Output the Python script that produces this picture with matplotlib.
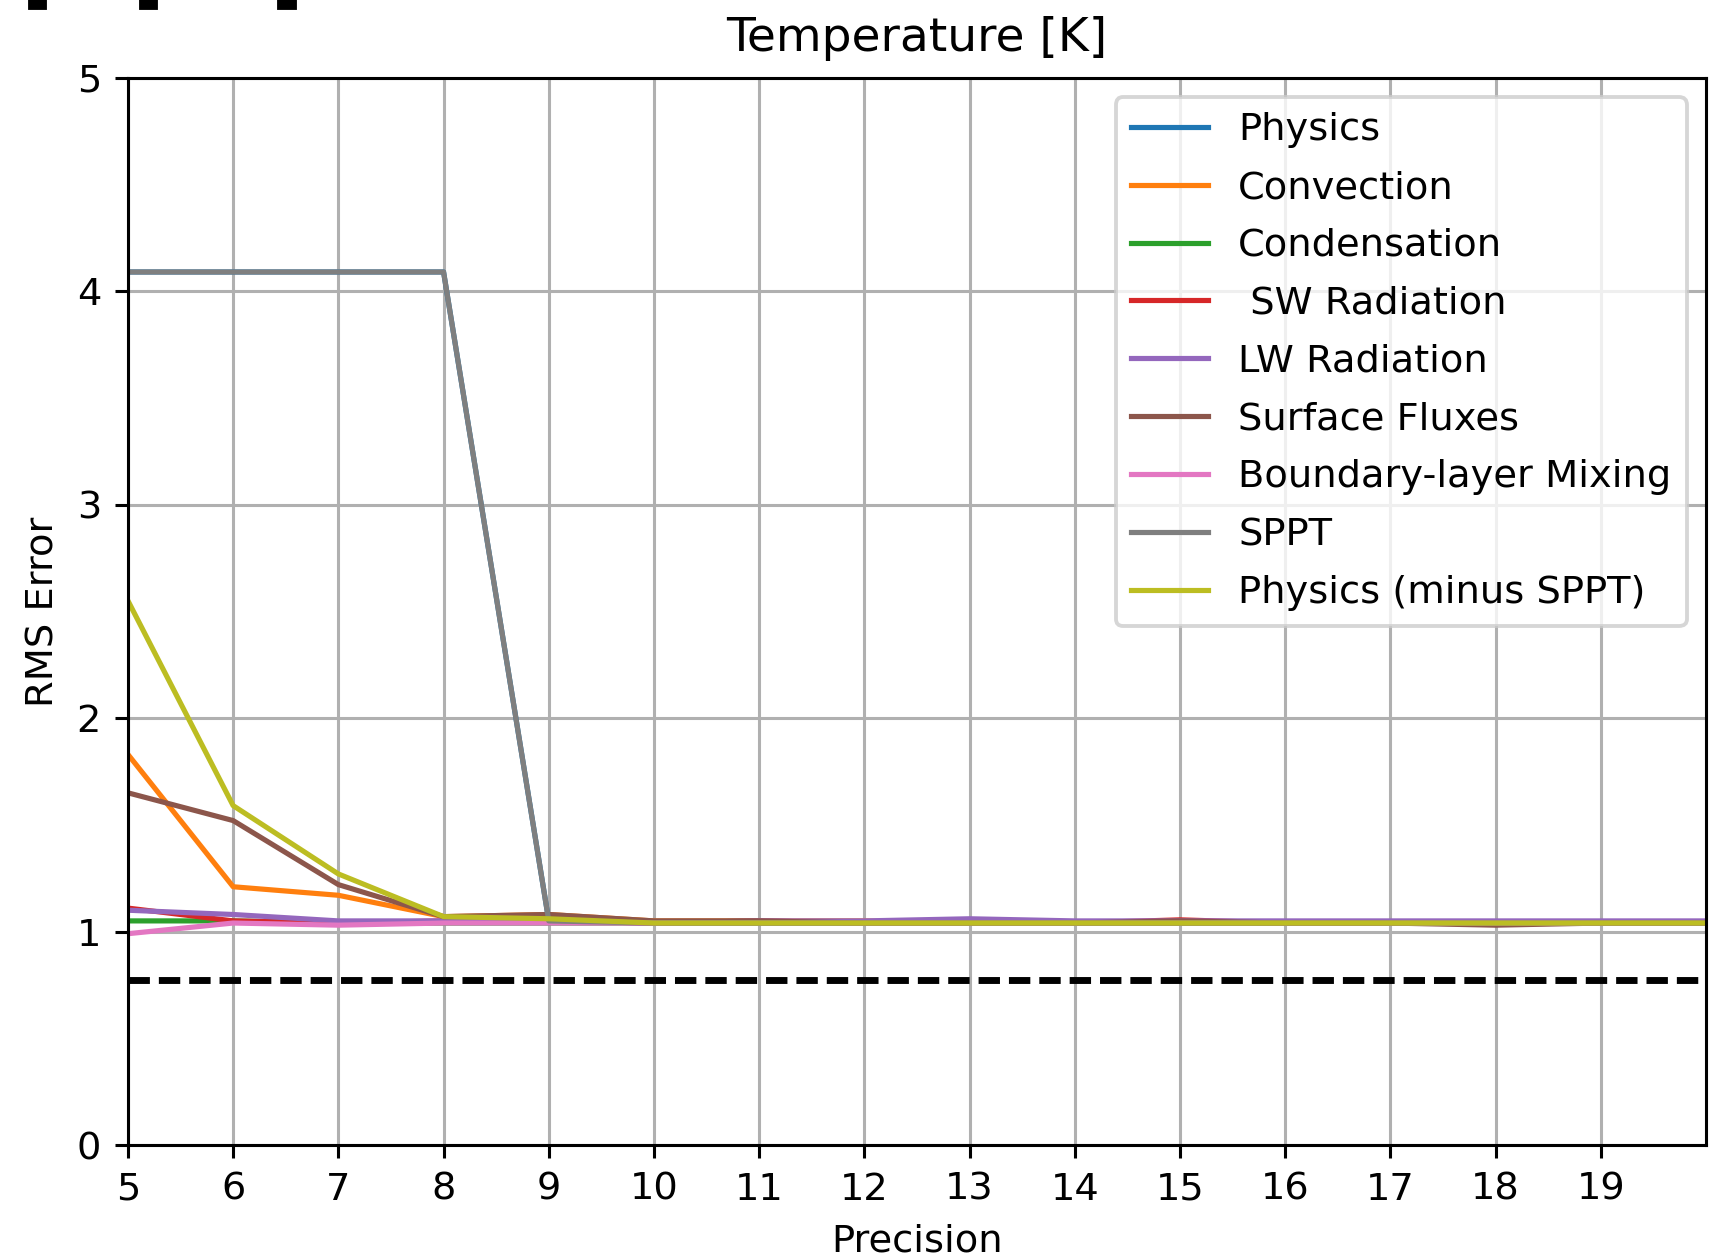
import numpy as np
import matplotlib
matplotlib.use("Agg")
import matplotlib.pyplot as plt
from matplotlib.patches import Rectangle

# Bits of precision used in the reduced-precision runs
precision = [5, 6, 7, 8, 9, 10, 11, 12, 13, 14, 15, 16, 17, 18, 19, 20]

series_labels = ["Physics", "Convection", "Condensation", " SW Radiation",
                 "LW Radiation", "Surface Fluxes", "Boundary-layer Mixing",
                 "SPPT", "Physics (minus SPPT)"]

# RMS temperature error [K] for each reduced-precision parametrisation
physics      = [4.09, 4.09, 4.09, 4.09, 1.05, 1.04, 1.04, 1.04, 1.04, 1.04, 1.04, 1.04, 1.04, 1.04, 1.04, 1.04]
convection   = [1.83, 1.21, 1.17, 1.07, 1.08, 1.05, 1.05, 1.05, 1.04, 1.04, 1.04, 1.04, 1.04, 1.04, 1.04, 1.04]
condensation = [1.05, 1.05, 1.04, 1.04, 1.04, 1.04, 1.04, 1.04, 1.04, 1.04, 1.04, 1.04, 1.04, 1.04, 1.04, 1.04]
sw_radiation = [1.11, 1.05, 1.04, 1.05, 1.05, 1.04, 1.05, 1.04, 1.04, 1.04, 1.055, 1.04, 1.04, 1.04, 1.04, 1.04]
lw_radiation = [1.10, 1.08, 1.05, 1.05, 1.05, 1.04, 1.05, 1.05, 1.06, 1.05, 1.05, 1.05, 1.05, 1.05, 1.05, 1.05]
surface      = [1.65, 1.52, 1.22, 1.07, 1.08, 1.05, 1.05, 1.04, 1.04, 1.04, 1.05, 1.04, 1.04, 1.03, 1.04, 1.04]
boundary     = [0.99, 1.04, 1.03, 1.04, 1.04, 1.04, 1.04, 1.04, 1.04, 1.04, 1.04, 1.04, 1.04, 1.04, 1.04, 1.04]
sppt         = [4.09, 4.09, 4.09, 4.09, 1.05, 1.04, 1.04, 1.04, 1.04, 1.04, 1.04, 1.04, 1.04, 1.04, 1.04, 1.04]
minus_sppt   = [2.55, 1.59, 1.27, 1.07, 1.06, 1.04, 1.04, 1.04, 1.04, 1.04, 1.04, 1.04, 1.04, 1.04, 1.04, 1.04]

# Error of the double-precision ensemble spread (reference level)
reference_error = 0.775

x_ticks = list(range(5, 20))
y_ticks = [0, 1, 2, 3, 4, 5]

all_series = [physics, convection, condensation, sw_radiation, lw_radiation,
              surface, boundary, sppt, minus_sppt]

dpi = 276
fig = plt.figure(figsize=(1715 / dpi, 1258 / dpi), dpi=dpi)
ax = fig.add_axes([0.0746, 0.0898, 0.9202, 0.8484])

for i, (vals, lab) in enumerate(zip(all_series, series_labels)):
    ax.plot(precision, vals, color=f"C{i}", lw=1.35, label=lab)

ax.axhline(reference_error, color="black", lw=1.8, linestyle=(0, (3.1, 1.3)))

ax.set_xlim(5, 20)
ax.set_ylim(0, 5)
ax.set_xticks(x_ticks)
ax.set_yticks(y_ticks)
ax.grid(True)
ax.set_xlabel("Precision")
ax.set_ylabel("RMS Error")
ax.set_title("Temperature [K]", fontsize=12.3, pad=7)
ax.legend(loc="upper right", labelspacing=0.57)

# Fragments of neighbouring panel labels at the top edge
for x0, w in [(30, 15), (141, 15), (279, 16)]:
    fig.patches.append(Rectangle((x0 / 1715, 1 - 8 / 1258), w / 1715, 8 / 1258,
                                 transform=fig.transFigure, color="black"))

fig.savefig("out.png", dpi=dpi)
